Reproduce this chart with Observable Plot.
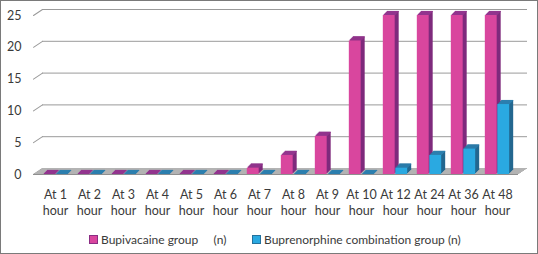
<!DOCTYPE html>
<html>
<head>
<meta charset="utf-8">
<script src="https://cdn.jsdelivr.net/npm/d3@7"></script>
<script src="https://cdn.jsdelivr.net/npm/@observablehq/plot@0.6"></script>
<style>
  html, body { margin: 0; padding: 0; background: #fff; }
  #wrap { position: relative; width: 538px; height: 254px; overflow: hidden; font-family: Lato, "Open Sans", sans-serif; }
  #chart { position: absolute; left: 0; top: 0; }
  #border { position: absolute; left: 0; top: 0; width: 538px; height: 254px; box-sizing: border-box; border: 1px solid #7a7a7a; pointer-events: none; }
  .leg { position: absolute; top: 232px; display: flex; align-items: center; font-size: 12px; color: #3a3a3a; white-space: pre; }
  .sw { width: 7px; height: 7px; margin-right: 3px; }
</style>
</head>
<body>
<div id="wrap">
  <div id="chart"></div>
  <div id="legend"></div>
  <div id="border"></div>
</div>
<script>
const categories = ["At 1 hour","At 2 hour","At 3 hour","At 4 hour","At 5 hour","At 6 hour","At 7 hour","At 8 hour","At 9 hour","At 10 hour","At 12 hour","At 24 hour","At 36 hour","At 48 hour"];
const bupivacaine = [0,0,0,0,0,0,1,3,6,21,25,25,25,25];
const buprenorphine = [0,0,0,0,0,0,0,0,0,0,1,3,4,11];
const seriesNames = ["Bupivacaine group     (n)", "Buprenorphine combination group (n)"];
const yTicks = [0,5,10,15,20,25];

const colors = [
  {front: "#d9469e", side: "#7e2a7c", top: "#93358e", edge: "#8a2d84"},
  {front: "#2aa9e1", side: "#23678f", top: "#2c7fae", edge: "#24719c"}
];

const W = 538, H = 220;
const step = (W - 33 - 20) / categories.length;
const barW = 12.5;
const insets = [
  {insetLeft: step/2 - barW, insetRight: step/2},
  {insetLeft: step/2, insetRight: step/2 - barW}
];

const tables = [bupivacaine, buprenorphine].map((vals) => categories.map((c, i) => ({cat: c, v: vals[i]})));

const depth = [1,2,3,4];
const floorSteps = [0,1,2,3,4,5,6];

function barMarks(data, s) {
  const c = colors[s], ins = insets[s];
  const marks = [];
  for (const k of depth) {
    marks.push(Plot.rectY(data, {x: "cat", y: "v", fill: c.side, dx: k, dy: -k, ...ins}));
  }
  for (const k of depth) {
    marks.push(Plot.tickY(data, {x: "cat", y: "v", stroke: c.top, strokeWidth: 1.2, dx: k, dy: -k, ...ins}));
  }
  marks.push(Plot.rectY(data, {x: "cat", y: "v", fill: c.front, ...ins}));
  return marks;
}

const chart = Plot.plot({
  width: W,
  height: H,
  marginLeft: 33,
  marginRight: 20,
  marginTop: 15,
  marginBottom: 46,
  style: {fontFamily: "Lato, 'Open Sans', sans-serif", fontSize: "12px", color: "#3a3a3a", background: "transparent"},
  x: {type: "band", domain: categories, padding: 0, label: null},
  y: {domain: [0, 25], label: null},
  marks: [
    Plot.ruleY(yTicks, {stroke: "#9a9a9a", dx: 9, dy: -6}),
    Plot.vector(yTicks, {y: d => d, frameAnchor: "left", anchor: "start", length: 10.8, rotate: 56.3, r: 0, stroke: "#9a9a9a", strokeWidth: 1}),
    ...floorSteps.map(k => Plot.ruleY([0], {stroke: k === 0 ? "#8f8f8f" : "#b3b3b3", dx: k * 1.5, dy: -k})),
    ...barMarks(tables[0], 0),
    ...barMarks(tables[1], 1),
    Plot.axisY(yTicks, {tickSize: 0, tickPadding: 12, fontSize: 12.5, fill: "#3a3a3a"}),
    Plot.axisX({tickSize: 0, tickPadding: 13, fontSize: 12.5, fill: "#3a3a3a", lineHeight: 1.3, tickFormat: d => d.replace(" hour", "\nhour")})
  ]
});
document.getElementById("chart").appendChild(chart);

const legend = document.getElementById("legend");
const legLefts = [89, 252];
seriesNames.forEach((name, i) => {
  const item = document.createElement("div");
  item.className = "leg";
  item.style.left = legLefts[i] + "px";
  const sw = document.createElement("div");
  sw.className = "sw";
  sw.style.background = colors[i].front;
  sw.style.border = "1px solid " + colors[i].edge;
  const t = document.createElement("span");
  t.textContent = name;
  item.appendChild(sw);
  item.appendChild(t);
  legend.appendChild(item);
});
</script>
</body>
</html>
